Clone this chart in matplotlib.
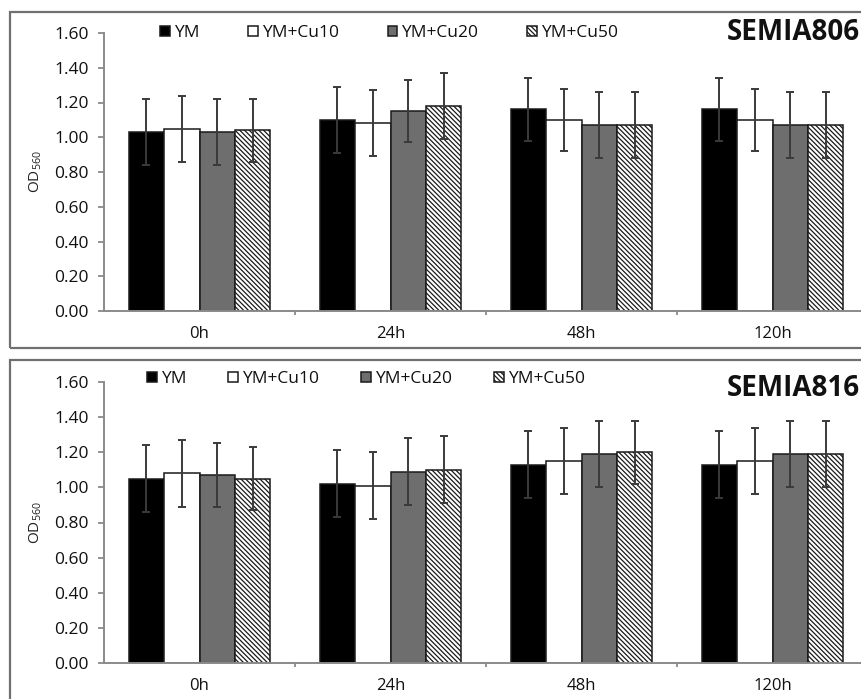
import matplotlib
matplotlib.use("Agg")
import matplotlib.pyplot as plt
from matplotlib.patches import Rectangle
import numpy as np

plt.rcParams['font.family'] = ['Open Sans', 'DejaVu Sans']
plt.rcParams['mathtext.fontset'] = 'custom'
plt.rcParams['mathtext.rm'] = 'Open Sans'
plt.rcParams['hatch.linewidth'] = 0.9

categories = ['0h', '24h', '48h', '120h']
series = ['YM', 'YM+Cu10', 'YM+Cu20', 'YM+Cu50']

# SEMIA806
top_ym = [1.03, 1.10, 1.16, 1.16]
top_cu10 = [1.05, 1.08, 1.10, 1.10]
top_cu20 = [1.03, 1.15, 1.07, 1.07]
top_cu50 = [1.04, 1.18, 1.07, 1.07]
top_err_ym = [0.19, 0.19, 0.18, 0.18]
top_err_cu10 = [0.19, 0.19, 0.18, 0.18]
top_err_cu20 = [0.19, 0.18, 0.19, 0.19]
top_err_cu50 = [0.18, 0.19, 0.19, 0.19]

# SEMIA816
bot_ym = [1.05, 1.02, 1.13, 1.13]
bot_cu10 = [1.08, 1.01, 1.15, 1.15]
bot_cu20 = [1.07, 1.09, 1.19, 1.19]
bot_cu50 = [1.05, 1.10, 1.20, 1.19]
bot_err_ym = [0.19, 0.19, 0.19, 0.19]
bot_err_cu10 = [0.19, 0.19, 0.19, 0.19]
bot_err_cu20 = [0.18, 0.19, 0.19, 0.19]
bot_err_cu50 = [0.18, 0.19, 0.18, 0.19]

yticks = [0.0, 0.2, 0.4, 0.6, 0.8, 1.0, 1.2, 1.4, 1.6]

W, H = 861, 699
fig = plt.figure(figsize=(W / 100, H / 100), dpi=100)

fills = ['#000000', '#ffffff', '#6e6e6e', '#ffffff']
hatches = [None, None, None, '\\\\\\\\\\\\\\']
AX = '#8a8a8a'

def px_axes(left, right, top, bottom):
    return fig.add_axes([left / W, (H - bottom) / H, (right - left) / W, (bottom - top) / H])

def panel(ax, vals, errs, title, ty, legend_y, colspace, leg_x):
    x = np.arange(len(categories))
    bw = 0.185
    handles = []
    for j, (v, e) in enumerate(zip(vals, errs)):
        pos = x + (j - 1.5) * bw
        b = ax.bar(pos, v, width=bw, color=fills[j], edgecolor='#1a1a1a',
                   linewidth=1.1, hatch=hatches[j], label=series[j], zorder=2)
        ax.errorbar(pos, v, yerr=e, fmt='none', ecolor='#3a3a3a', elinewidth=1.4,
                    capsize=3, capthick=1.4, zorder=3)
        handles.append(b)
    ax.set_xlim(-0.5, 3.5)
    ax.set_ylim(0, 1.6)
    ax.set_yticks(yticks)
    ax.set_yticklabels([f'{t:.2f}' for t in yticks])
    ax.set_xticks([0.5, 1.5, 2.5])
    ax.set_xticklabels([])
    ax.set_xticks(x, minor=True)
    ax.set_xticklabels(categories, minor=True)
    ax.tick_params(axis='x', which='major', length=3, color=AX, width=1.3, direction='out')
    ax.tick_params(axis='x', which='minor', length=0, pad=11, labelsize=12, labelcolor='#111111')
    ax.tick_params(axis='y', length=4.3, color=AX, width=1.3, pad=6.5, labelsize=12.5, labelcolor='#111111')
    for s in ['top', 'right']:
        ax.spines[s].set_visible(False)
    for s in ['left', 'bottom']:
        ax.spines[s].set_color(AX)
        ax.spines[s].set_linewidth(1.4)
    ax.set_ylabel('OD$_{560}$', fontsize=11, color='#222222')
    ax.yaxis.set_label_coords(-0.079, 0.5)
    fig.text(727 / W, 1 - ty / H, title, fontsize=20, fontweight='bold',
             ha='left', va='center', color='#111111')
    leg = fig.legend(handles=handles, labels=series, ncol=4, frameon=False,
                     loc='center left', bbox_to_anchor=(leg_x / W, 1 - legend_y / H),
                     borderpad=0, borderaxespad=0, handlelength=0.55, handleheight=0.55,
                     handletextpad=0.25, columnspacing=colspace, fontsize=12.5)
    for t in leg.get_texts():
        t.set_color('#111111')

ax1 = px_axes(104, 868, 33, 311)
panel(ax1, [top_ym, top_cu10, top_cu20, top_cu50],
      [top_err_ym, top_err_cu10, top_err_cu20, top_err_cu50],
      'SEMIA806', 33, 33, 2.8, 160)

ax2 = px_axes(104, 868, 382, 663)
panel(ax2, [bot_ym, bot_cu10, bot_cu20, bot_cu50],
      [bot_err_ym, bot_err_cu10, bot_err_cu20, bot_err_cu50],
      'SEMIA816', 388, 379, 2.42, 147)

# panel frames (cropped at the right / bottom edge)
fig.patches.append(Rectangle((10 / W, 1 - 348 / H), 1.0, 336 / H, transform=fig.transFigure,
                             fill=False, edgecolor='#707070', linewidth=1.6))
fig.patches.append(Rectangle((10 / W, -0.1), 1.0, 0.1 + (H - 360) / H, transform=fig.transFigure,
                             fill=False, edgecolor='#707070', linewidth=1.6))

fig.savefig('out.png', dpi=100)
